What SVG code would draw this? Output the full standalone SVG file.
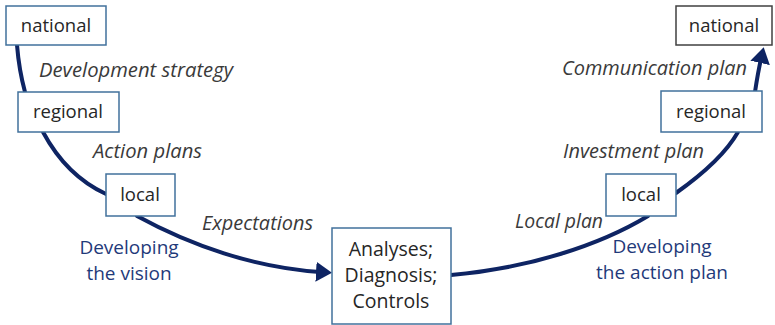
<svg xmlns="http://www.w3.org/2000/svg" width="775" height="325" viewBox="0 0 775 325">
<defs>
<style>
.box{fill:#fff;stroke:#41719c;stroke-width:1.5}
.bt{font-family:"Open Sans","DejaVu Sans",sans-serif;font-size:18.5px;fill:#262626;text-anchor:middle}
.ct{font-size:19.5px}
.lab{font-family:"Open Sans","DejaVu Sans",sans-serif;font-size:19.5px;font-style:italic;fill:#3a3a3a}
.ph{font-family:"Open Sans","DejaVu Sans",sans-serif;font-size:19px;fill:#1f3a7a;text-anchor:middle}
.ln{fill:none;stroke:#0e2463;stroke-width:4;stroke-linecap:round}
</style>
<marker id="ah" markerWidth="4" markerHeight="5" refX="1" refY="2.5" orient="auto" markerUnits="strokeWidth" viewBox="0 0 4 5">
<path d="M0,0 L4,2.5 L0,5 z" fill="#0e2463"/>
</marker>
</defs>
<rect width="775" height="325" fill="#fff"/>
<g id="connectors">
<path class="ln" d="M17,45 Q19,70 25,92"/>
<path class="ln" d="M43,132 C58,160 80,182 106,194"/>
<path class="ln" d="M137,216 C190,245 255,268 320,272" marker-end="url(#ah)"/>
<path class="ln" d="M451,275 C530,268 600,245 648,216"/>
<path class="ln" d="M676,193 C700,176 725,155 738,132"/>
<path class="ln" d="M755,92 Q758,72 761,59" marker-end="url(#ah)"/>
</g>
<g id="national-left"><rect class="box" x="6" y="6" width="100" height="39"/><text class="bt" x="56" y="32">national</text></g>
<g id="regional-left"><rect class="box" x="18" y="92" width="101" height="40"/><text class="bt" x="68" y="118">regional</text></g>
<g id="local-left"><rect class="box" x="106" y="174" width="69" height="42"/><text class="bt" x="140" y="201">local</text></g>
<g id="center"><rect class="box" x="332" y="228" width="119" height="96"/>
<text class="bt ct" x="391" y="256">Analyses;</text><text class="bt ct" x="391" y="282">Diagnosis;</text><text class="bt ct" x="391" y="308">Controls</text></g>
<g id="local-right"><rect class="box" x="606" y="174" width="70" height="42"/><text class="bt" x="641" y="201">local</text></g>
<g id="regional-right"><rect class="box" x="661" y="91" width="101" height="41"/><text class="bt" x="711" y="118">regional</text></g>
<g id="national-right"><rect class="box" x="676" y="6" width="96" height="39" style="stroke:#404040"/><text class="bt" x="724" y="32">national</text></g>
<g id="labels">
<text class="lab" x="39" y="77" textLength="194" lengthAdjust="spacingAndGlyphs">Development strategy</text>
<text class="lab" x="93" y="158" textLength="109" lengthAdjust="spacingAndGlyphs">Action plans</text>
<text class="lab" x="202" y="230" textLength="111" lengthAdjust="spacingAndGlyphs">Expectations</text>
<text class="lab" x="515" y="228" textLength="88" lengthAdjust="spacingAndGlyphs">Local plan</text>
<text class="lab" x="563" y="158" textLength="141" lengthAdjust="spacingAndGlyphs">Investment plan</text>
<text class="lab" x="562" y="75" textLength="185" lengthAdjust="spacingAndGlyphs">Communication plan</text>
<text class="ph" x="129" y="254">Developing</text>
<text class="ph" x="129" y="280">the vision</text>
<text class="ph" x="662" y="253">Developing</text>
<text class="ph" x="662" y="279">the action plan</text>
</g>
</svg>
